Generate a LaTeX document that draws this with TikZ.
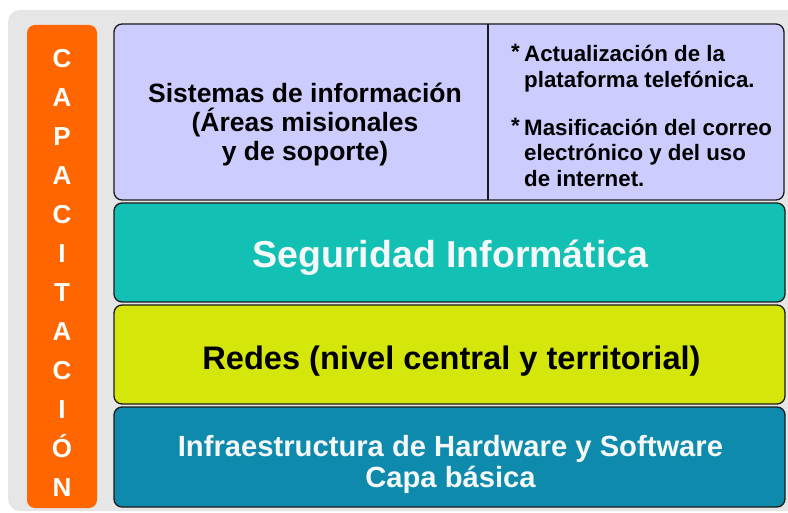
\documentclass[tikz,border=0pt]{standalone}
\usepackage{fontspec}
\setmainfont{Liberation Sans}
\definecolor{bggray}{HTML}{E6E6E6}
\definecolor{orangebar}{HTML}{FF6600}
\definecolor{lav}{HTML}{CCCCFF}
\definecolor{tealc}{HTML}{13C1B4}
\definecolor{limec}{HTML}{D4E60A}
\definecolor{bluec}{HTML}{0E8AAD}
\definecolor{edgec}{HTML}{1A1A1A}
\definecolor{offwhite}{HTML}{F4F8F8}
\tikzset{
  layerbox/.style={draw=edgec, line width=1.3pt, rounded corners=8pt},
  txt/.style={inner sep=0pt, anchor=base},
  txtw/.style={inner sep=0pt, anchor=base west},
  sysfont/.style={font=\fontsize{26.5}{28}\selectfont\bfseries},
  bulfont/.style={font=\fontsize{22.3}{24}\selectfont\bfseries},
  vletter/.style={inner sep=0pt, anchor=base, text=white, font=\fontsize{26}{28}\selectfont\bfseries},
}
\begin{document}
\begin{tikzpicture}[x=1pt,y=-1pt]
\useasboundingbox (0,0) rectangle (788,513);
\begin{scope}
\clip (0,0) rectangle (788,513);
\fill[bggray, rounded corners=12pt] (8,10) rectangle (800,511);
\end{scope}
% orange bar
\fill[orangebar, rounded corners=8pt] (27,25) rectangle (97,508);
\foreach \l [count=\k from 0] in {C,A,P,A,C,I,T,A,C,I,Ó,N} {
  \node[vletter] (v\k) at (62,{67.5+39*\k}) {\l};
}
% layers
\draw[layerbox, fill=lav] (114,24) rectangle (784,200);
\draw[edgec, line width=1.3pt] (488,24) -- (488,200);
\draw[layerbox, fill=tealc] (114,203) rectangle (785,302);
\draw[layerbox, fill=limec] (114,305) rectangle (785,404);
\draw[layerbox, fill=bluec] (114,407) rectangle (785,507);
% top-left text
\node[txt, sysfont] (s1) at (305,103) {Sistemas de información};
\node[txt, sysfont] (s2) at (305,132) {(Áreas misionales};
\node[txt, sysfont] (s3) at (305,161) {y de soporte)};
% top-right text
\node[txtw, bulfont] (a1) at (511,60) {*};
\node[txtw, bulfont] (r1) at (524,62) {Actualización de la};
\node[txtw, bulfont] (r2) at (524,88) {plataforma telefónica.};
\node[txtw, bulfont] (a2) at (511,134) {*};
\node[txtw, bulfont] (r3) at (524,136) {Masificación del correo};
\node[txtw, bulfont] (r4) at (524,161) {electrónico y del uso};
\node[txtw, bulfont] (r5) at (524,187) {de internet.};
% layer texts
\node[txt, text=offwhite, font=\fontsize{37.5}{40}\selectfont\bfseries] (seg) at (450.5,268) {Seguridad Informática};
\node[txt, font=\fontsize{32.6}{35}\selectfont\bfseries] (red) at (451.5,370) {Redes (nivel central y territorial)};
\node[txt, text=offwhite, font=\fontsize{29.2}{31}\selectfont\bfseries] (inf1) at (450.5,456) {Infraestructura de Hardware y Software};
\node[txt, text=offwhite, font=\fontsize{29.2}{31}\selectfont\bfseries] (inf2) at (450.5,487) {Capa básica};
\end{tikzpicture}
\end{document}
